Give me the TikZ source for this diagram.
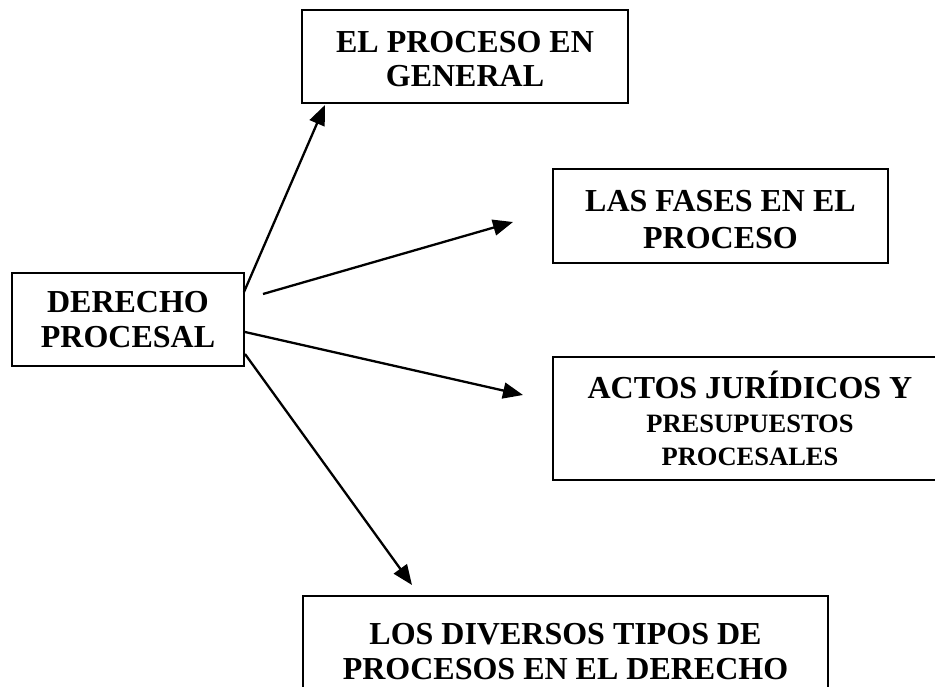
\documentclass[tikz,border=0pt]{standalone}
\usepackage{fontspec}
\setmainfont{Liberation Serif}
\usetikzlibrary{arrows.meta}
\begin{document}
\begin{tikzpicture}[x=1pt,y=-1pt]
\tikzset{
  caja/.style={draw=black,line width=2pt,inner sep=0pt,align=center,
    font=\bfseries\fontsize{32}{35}\selectfont},
  flecha/.style={line width=2.3pt,-{Triangle[length=20pt,width=16pt]}}
}
\useasboundingbox (0,0) rectangle (935,687);
\clip (0,0) rectangle (935,687);
\node [caja,minimum width=232pt,minimum height=93pt] (derecho) at (128,319.5) {DERECHO\\PROCESAL};
\node [caja,minimum width=326pt,minimum height=93pt] (proceso) at (465,56.5) {\rule{0pt}{27pt}EL PROCESO EN\\[-1pt]GENERAL};
\node [caja,minimum width=335pt,minimum height=94pt] (fases) at (720.5,216) {\rule{0pt}{29pt}LAS FASES EN EL\\[2pt]PROCESO};
\node [caja,minimum width=394pt,minimum height=123pt] (actos) at (750,418.5)
  {ACTOS JUR\'IDICOS Y\\[-1pt]{\fontsize{26.5}{33}\selectfont PRESUPUESTOS}\\[-2pt]{\fontsize{26.5}{33}\selectfont PROCESALES}};
\node [caja,minimum width=525pt,minimum height=117pt] (tipos) at (565.5,654.5) {LOS DIVERSOS TIPOS DE\\PROCESOS EN EL DERECHO\rule[-6pt]{0pt}{6pt}};
\coordinate (s1) at (244,292);
\coordinate (s2) at (263,294);
\coordinate (s3) at (245,332);
\coordinate (s4) at (245,354);
\coordinate (e1) at (325,105);
\coordinate (e2) at (513,222);
\coordinate (e3) at (523,395);
\coordinate (e4) at (412,585);
\draw [flecha] (s1) -- (e1);
\draw [flecha] (s2) -- (e2);
\draw [flecha] (s3) -- (e3);
\draw [flecha] (s4) -- (e4);
\end{tikzpicture}
\end{document}
